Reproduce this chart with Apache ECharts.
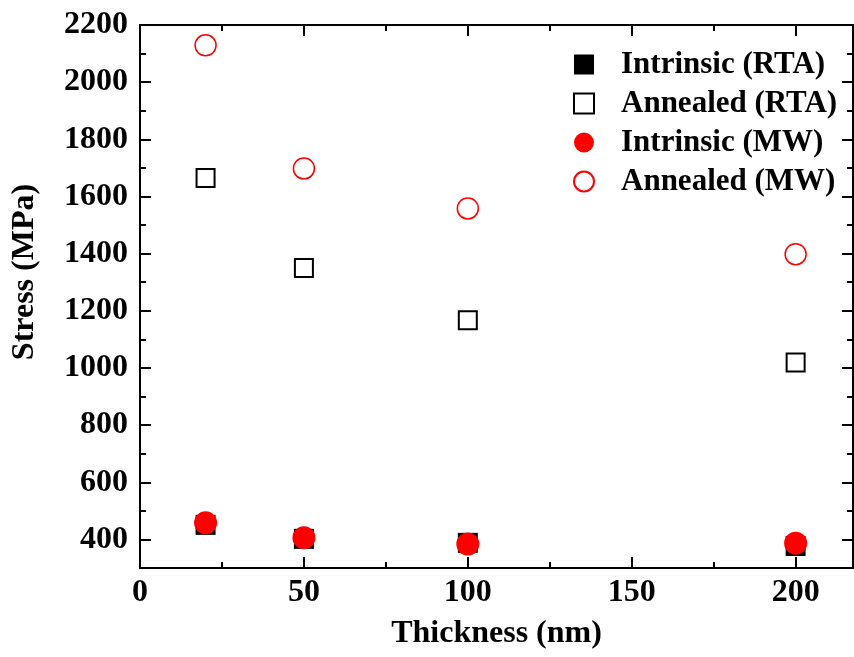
<!DOCTYPE html>
<html>
<head>
<meta charset="utf-8">
<style>
  html, body { margin: 0; padding: 0; background: #fff; }
  #chart { width: 854px; height: 657px; }
</style>
<script src="https://cdn.jsdelivr.net/npm/echarts@6/dist/echarts.min.js"></script>
</head>
<body>
<div id="chart"></div>
<script>
// Film thickness (nm) and measured stress (MPa)
const thickness = [20, 50, 100, 200];
const intrinsicRTA = [451, 402, 388, 377];
const annealedRTA = [1665, 1350, 1167, 1019];
const intrinsicMW = [458, 406, 384, 387];
const annealedMW = [2129, 1698, 1558, 1398];

const seriesNames = ['Intrinsic (RTA)', 'Annealed (RTA)', 'Intrinsic (MW)', 'Annealed (MW)'];

const xMajorTicks = [0, 50, 100, 150, 200];
const xMinorTicks = [25, 75, 125, 175];
const yMajorTicks = [400, 600, 800, 1000, 1200, 1400, 1600, 1800, 2000, 2200];
const yMinorTicks = [500, 700, 900, 1100, 1300, 1500, 1700, 1900, 2100];

const FONT = '"Liberation Serif", "Times New Roman", serif';
const X_MIN = 0, X_MAX = 217.5, Y_MIN = 300, Y_MAX = 2200;

function pairs(xs, ys) { return xs.map((x, i) => [x, ys[i]]); }
function plain(v) { return String(v); }

function xAxisDef(position, ticks, len, showLine, showLabel, name) {
  return {
    type: 'value', position: position, min: X_MIN, max: X_MAX,
    splitLine: { show: false },
    axisLine: { show: showLine, onZero: false, lineStyle: { color: '#000', width: 2 } },
    axisTick: { show: true, inside: true, length: len, customValues: ticks, lineStyle: { color: '#000', width: 2 } },
    axisLabel: {
      show: showLabel, customValues: ticks, margin: 9, formatter: plain,
      fontFamily: FONT, fontWeight: 'bold', fontSize: 32, color: '#000'
    },
    name: name || '', nameLocation: 'middle', nameGap: 50,
    nameTextStyle: { fontFamily: FONT, fontWeight: 'bold', fontSize: 32, color: '#000' }
  };
}

function yAxisDef(position, ticks, len, showLine, showLabel) {
  return {
    type: 'value', position: position, min: Y_MIN, max: Y_MAX,
    splitLine: { show: false },
    axisLine: { show: showLine, onZero: false, lineStyle: { color: '#000', width: 2 } },
    axisTick: { show: true, inside: true, length: len, customValues: ticks, lineStyle: { color: '#000', width: 2 } },
    axisLabel: {
      show: showLabel, customValues: ticks, margin: 12, formatter: plain,
      fontFamily: FONT, fontWeight: 'bold', fontSize: 32, color: '#000'
    }
  };
}

const chart = echarts.init(document.getElementById('chart'), null, { renderer: 'canvas' });

chart.setOption({
  backgroundColor: '#fff',
  animation: false,
  grid: { left: 140, top: 25, right: 1, bottom: 89, containLabel: false },
  xAxis: [
    xAxisDef('bottom', xMajorTicks, 11, true, true, 'Thickness (nm)'),
    xAxisDef('bottom', xMinorTicks, 6, false, false),
    xAxisDef('top', xMajorTicks, 11, true, false),
    xAxisDef('top', xMinorTicks, 6, false, false)
  ],
  yAxis: [
    yAxisDef('left', yMajorTicks, 11, true, true),
    yAxisDef('left', yMinorTicks, 6, false, false),
    yAxisDef('right', yMajorTicks, 11, true, false),
    yAxisDef('right', yMinorTicks, 6, false, false)
  ],
  legend: {
    orient: 'vertical', left: 573, top: 49, padding: 0,
    itemWidth: 20, itemHeight: 20, itemGap: 8,
    data: seriesNames,
    textStyle: {
      fontFamily: FONT, fontWeight: 'bold', fontSize: 31, color: '#000',
      lineHeight: 31, padding: [0, 0, 0, 22]
    }
  },
  graphic: [{
    type: 'text', x: 25, y: 272, rotation: Math.PI / 2,
    style: {
      text: 'Stress (MPa)', fontFamily: FONT, fontWeight: 'bold', fontSize: 32,
      fill: '#000', align: 'center', verticalAlign: 'middle'
    }
  }],
  series: [
    {
      name: seriesNames[0], type: 'scatter', symbol: 'rect', symbolSize: 20,
      data: pairs(thickness, intrinsicRTA),
      itemStyle: { color: '#000', opacity: 1 }
    },
    {
      name: seriesNames[1], type: 'scatter', symbol: 'rect', symbolSize: 18,
      data: pairs(thickness, annealedRTA),
      itemStyle: { color: '#fff', borderColor: '#000', borderWidth: 2, opacity: 1 }
    },
    {
      name: seriesNames[2], type: 'scatter', symbol: 'circle', symbolSize: 23,
      data: pairs(thickness, intrinsicMW),
      itemStyle: { color: '#ff0000', opacity: 1 }
    },
    {
      name: seriesNames[3], type: 'scatter', symbol: 'circle', symbolSize: 21,
      data: pairs(thickness, annealedMW),
      itemStyle: { color: '#fff', borderColor: '#ff0000', borderWidth: 1.5, opacity: 1 }
    }
  ]
});
</script>
</body>
</html>
